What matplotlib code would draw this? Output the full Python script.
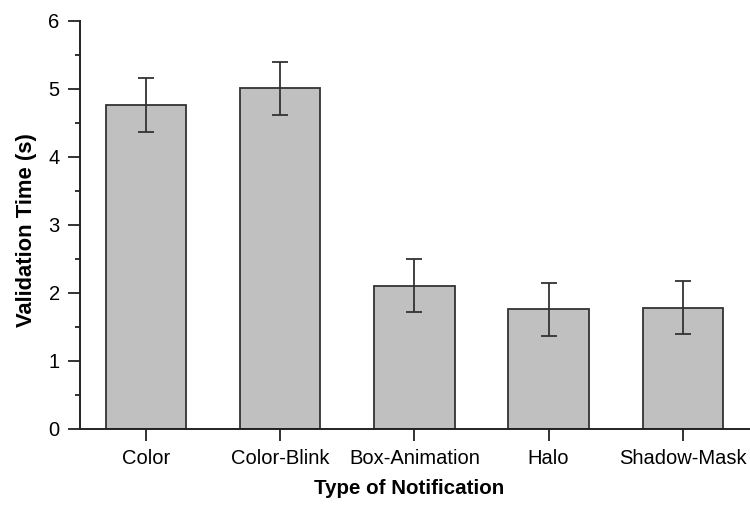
import matplotlib
matplotlib.use("Agg")
import matplotlib.pyplot as plt
from matplotlib.ticker import MultipleLocator

plt.rcParams['font.family'] = ['Liberation Sans', 'DejaVu Sans']

categories = ["Color", "Color-Blink", "Box-Animation", "Halo", "Shadow-Mask"]
times = [4.76, 5.01, 2.11, 1.76, 1.78]
errors = [0.40, 0.39, 0.39, 0.39, 0.39]

fig = plt.figure(figsize=(7.5, 5.05), dpi=100)
ax = fig.add_axes([0.1067, 0.1505, 0.8933, 0.808])

x = range(len(categories))
ax.bar(x, times, width=0.6, color="#c0c0c0", edgecolor="#333333", linewidth=1.3)
ax.errorbar(x, times, yerr=errors, fmt="none", ecolor="#333333",
            elinewidth=1.3, capsize=6, capthick=1.3)

ax.set_xlim(-0.49, 4.5)
ax.set_ylim(0, 6)
ax.set_xticks(list(x))
ax.set_xticklabels(categories, fontsize=14.5)
ax.yaxis.set_major_locator(MultipleLocator(1))
ax.yaxis.set_minor_locator(MultipleLocator(0.5))
ax.tick_params(axis="y", labelsize=14.5)

ax.spines["top"].set_visible(False)
ax.spines["right"].set_visible(False)
for s in ["left", "bottom"]:
    ax.spines[s].set_linewidth(1.4)
    ax.spines[s].set_color("#222222")

ax.tick_params(which="major", direction="out", length=8.6, width=1.3, color="#222222", pad=6)
ax.tick_params(which="minor", direction="out", length=3.6, width=1.3, color="#222222")
ax.tick_params(axis="x", which="minor", bottom=False)

ax.set_xlabel("Type of Notification", fontsize=14.8, fontweight="bold")
ax.set_ylabel("Validation Time (s)", fontsize=15.8, fontweight="bold")
ax.xaxis.set_label_coords(0.491, -0.122)
ax.yaxis.set_label_coords(-0.064, 0.487)

fig.savefig("out.png", dpi=100)
